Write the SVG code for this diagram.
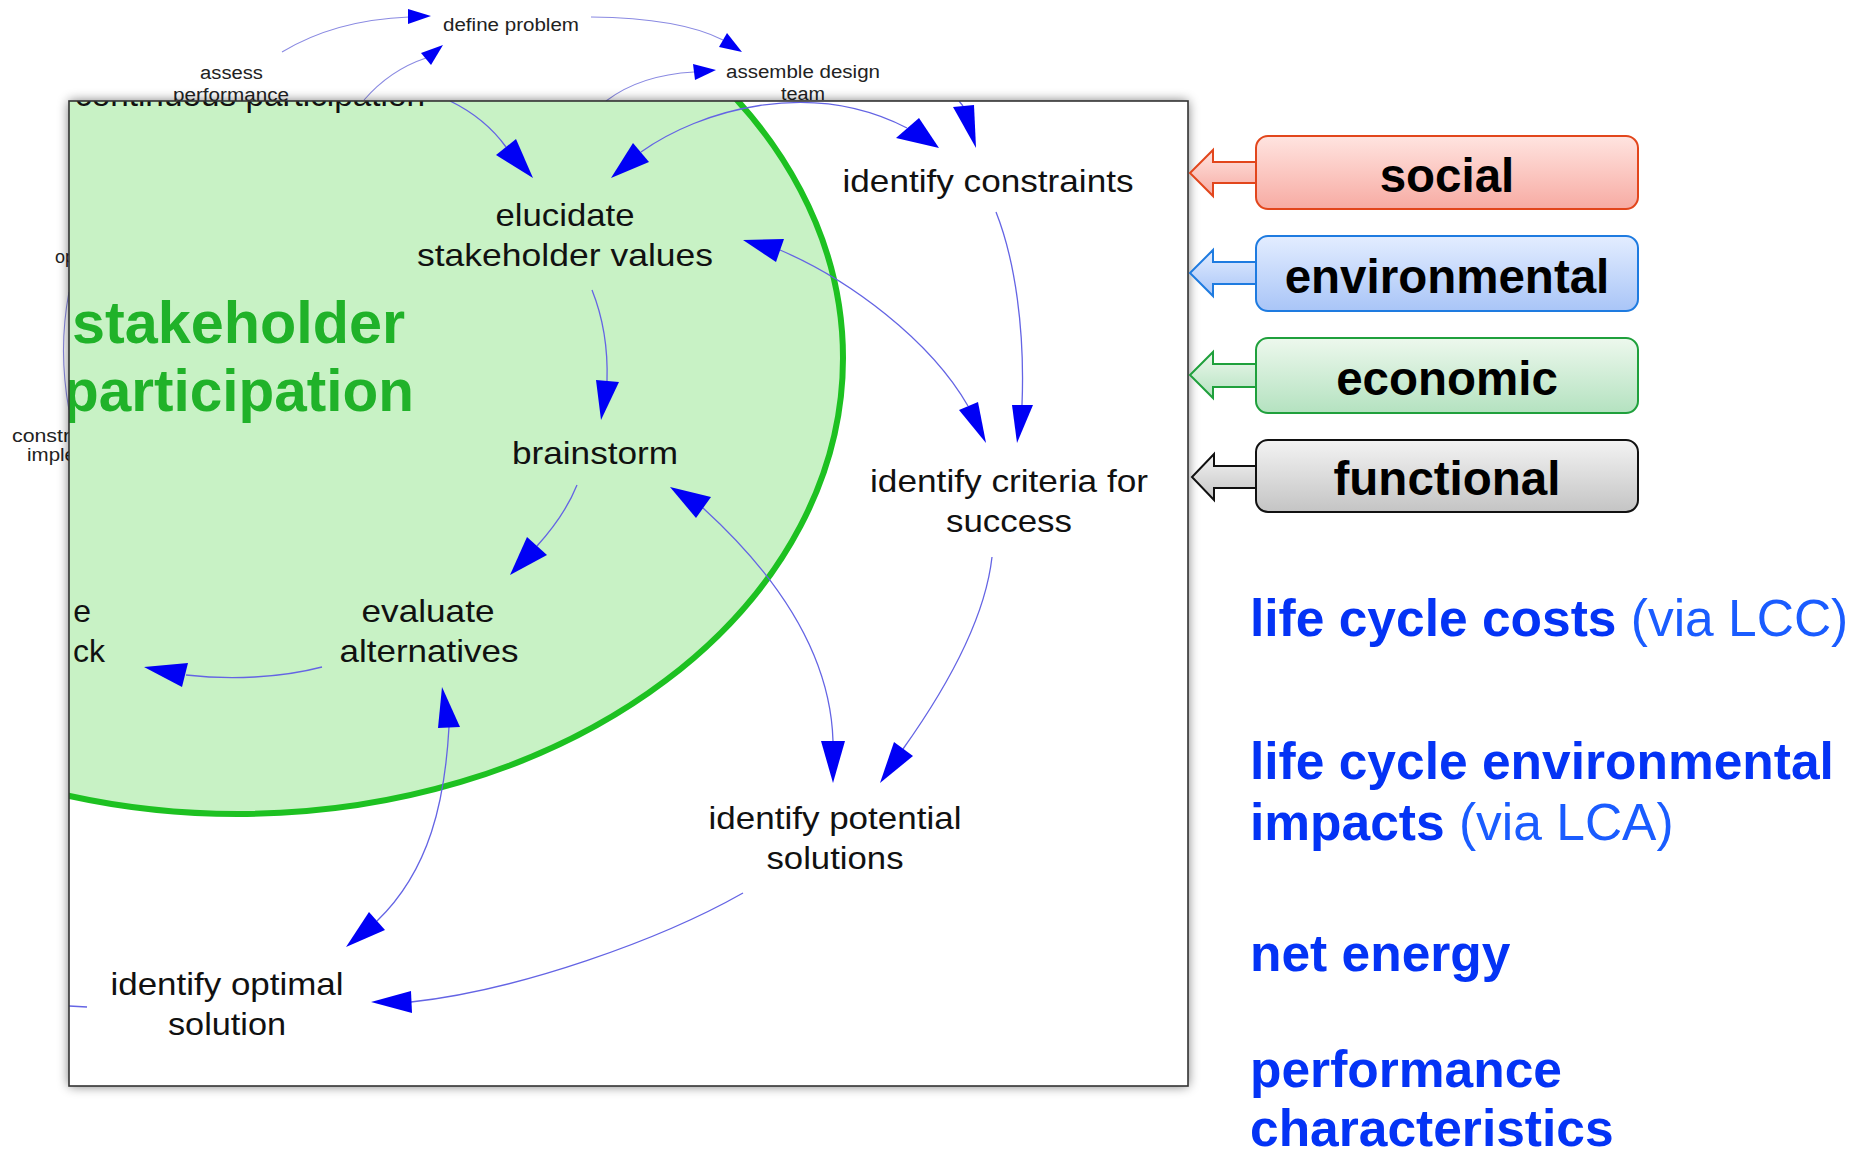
<svg xmlns="http://www.w3.org/2000/svg" width="1869" height="1151" viewBox="0 0 1869 1151">
<defs>
<style>
text{font-family:"Liberation Sans",Arial,Helvetica,sans-serif}
.sm{font-size:18px;fill:#222}
.nd{font-size:32px;fill:#111;text-anchor:middle}
.big{font-size:59px;font-weight:bold;fill:#20b229}
.ln{fill:none;stroke:#6464e4;stroke-width:1.3}
.lo{fill:none;stroke:#8a8ae2;stroke-width:1.1}
.ah{fill:#0000f5}
.cat{font-size:47.5px;font-weight:bold;fill:#000;text-anchor:middle}
.bl{font-size:51.5px;font-weight:bold;fill:#0433f5}
.rg{font-weight:normal;fill:#1a5cff}
</style>
<linearGradient id="gS" x1="0" y1="0" x2="0" y2="1"><stop offset="0" stop-color="#ffe4e0"/><stop offset="1" stop-color="#f7aba3"/></linearGradient>
<linearGradient id="gE" x1="0" y1="0" x2="0" y2="1"><stop offset="0" stop-color="#e3edff"/><stop offset="1" stop-color="#a9c5f7"/></linearGradient>
<linearGradient id="gC" x1="0" y1="0" x2="0" y2="1"><stop offset="0" stop-color="#edf8ed"/><stop offset="1" stop-color="#b4e2c0"/></linearGradient>
<linearGradient id="gF" x1="0" y1="0" x2="0" y2="1"><stop offset="0" stop-color="#f3f3f3"/><stop offset="1" stop-color="#c4c4c4"/></linearGradient>
<filter id="sh" x="-10%" y="-10%" width="120%" height="120%"><feGaussianBlur stdDeviation="6"/></filter>
<clipPath id="fc"><rect x="69" y="101" width="1119" height="985"/></clipPath>
</defs>
<rect width="1869" height="1151" fill="#fff"/>

<!-- background (outer) diagram -->
<g id="outer-nodes">
<text id="n-define" class="sm" x="443" y="31" textLength="136" lengthAdjust="spacingAndGlyphs">define problem</text>
<g id="n-assess"><text class="sm" x="200" y="79" textLength="63" lengthAdjust="spacingAndGlyphs">assess</text><text class="sm" x="173" y="101" textLength="116" lengthAdjust="spacingAndGlyphs">performance</text></g>
<g id="n-assemble"><text class="sm" x="726" y="78" textLength="154" lengthAdjust="spacingAndGlyphs">assemble design</text><text class="sm" x="781" y="100" textLength="44" lengthAdjust="spacingAndGlyphs">team</text></g>
<text id="n-op" class="sm" x="55" y="263">op</text>
<g id="n-constr"><text class="sm" x="12" y="442" textLength="58" lengthAdjust="spacingAndGlyphs">constr</text><text class="sm" x="27" y="461" textLength="49" lengthAdjust="spacingAndGlyphs">imple</text></g>
</g>
<g id="outer-connectors">
<path class="lo" d="M282,52 Q335,20 409,17"/><polygon class="ah" points="431,16 408,9 408,24"/>
<path class="lo" d="M364,100 Q390,70 426,58"/><polygon class="ah" points="443,45 421,53 431,65"/>
<path class="lo" d="M591,17 Q680,18 723,40"/><polygon class="ah" points="742,52 719,47 727,33"/>
<path class="lo" d="M606,101 Q640,75 694,72"/><polygon class="ah" points="716,70 693,64 695,80"/>
<path class="lo" d="M69,292 Q58,350 69,410"/>
</g>

<!-- zoom frame -->
<g id="frame">
<rect x="69" y="101" width="1119" height="985" fill="#000" opacity="0.55" filter="url(#sh)"/>
<rect x="69" y="101" width="1119" height="985" fill="#fff"/>
<g clip-path="url(#fc)">
<ellipse id="participation-zone" cx="238" cy="358" rx="605" ry="456" fill="#c8f2c5" stroke="#1dc121" stroke-width="6"/>
<text x="75" y="106" font-size="32" fill="#111" textLength="350" lengthAdjust="spacingAndGlyphs">continuous participation</text>
<g id="zone-label"><text class="big" x="72" y="343" textLength="333" lengthAdjust="spacingAndGlyphs">stakeholder</text><text class="big" x="63" y="411" textLength="351" lengthAdjust="spacingAndGlyphs">participation</text></g>

<g id="nodes">
<text id="n-constraints" class="nd" x="988" y="192" textLength="291" lengthAdjust="spacingAndGlyphs">identify constraints</text>
<g id="n-elucidate"><text class="nd" x="565" y="226" textLength="139" lengthAdjust="spacingAndGlyphs">elucidate</text><text class="nd" x="565" y="266" textLength="296" lengthAdjust="spacingAndGlyphs">stakeholder values</text></g>
<text id="n-brainstorm" class="nd" x="595" y="464" textLength="166" lengthAdjust="spacingAndGlyphs">brainstorm</text>
<g id="n-evaluate"><text class="nd" x="428" y="622" textLength="133" lengthAdjust="spacingAndGlyphs">evaluate</text><text class="nd" x="429" y="662" textLength="179" lengthAdjust="spacingAndGlyphs">alternatives</text></g>
<g id="n-criteria"><text class="nd" x="1009" y="492" textLength="278" lengthAdjust="spacingAndGlyphs">identify criteria for</text><text class="nd" x="1009" y="532" textLength="126" lengthAdjust="spacingAndGlyphs">success</text></g>
<g id="n-potential"><text class="nd" x="835" y="829" textLength="253" lengthAdjust="spacingAndGlyphs">identify potential</text><text class="nd" x="835" y="869" textLength="137" lengthAdjust="spacingAndGlyphs">solutions</text></g>
<g id="n-optimal"><text class="nd" x="227" y="995" textLength="233" lengthAdjust="spacingAndGlyphs">identify optimal</text><text class="nd" x="227" y="1035" textLength="118" lengthAdjust="spacingAndGlyphs">solution</text></g>
<g id="n-feedback"><text class="nd" x="91" y="622" style="text-anchor:end">e</text><text class="nd" x="105" y="662" style="text-anchor:end">ck</text></g>
</g>

<g id="connectors">
<path class="ln" d="M450,101 Q485,118 506,147"/><polygon class="ah" points="533,178 496,155 516,139"/>
<path class="ln" d="M641,152 C700,110 810,78 907,128"/><polygon class="ah" points="611,178 633,143 649,162"/><polygon class="ah" points="939,148 896,138 919,118"/>
<path class="ln" d="M959,101 L963,106"/><polygon class="ah" points="976,148 953,107 974,105"/>
<path class="ln" d="M996,212 C1015,260 1025,330 1022,405"/><polygon class="ah" points="1017,443 1012,405 1033,405"/>
<path class="ln" d="M780,250 C850,280 930,340 968,406"/><polygon class="ah" points="743,240 784,239 776,262"/><polygon class="ah" points="986,443 959,410 978,402"/>
<path class="ln" d="M592,290 C604,320 608,350 607,381"/><polygon class="ah" points="601,420 596,380 619,382"/>
<path class="ln" d="M577,485 Q565,515 537,546"/><polygon class="ah" points="510,575 527,537 547,555"/>
<path class="ln" d="M322,667 C280,678 230,680 186,675"/><polygon class="ah" points="144,667 188,663 182,687"/>
<path class="ln" d="M449,727 C445,800 430,870 377,921"/><polygon class="ah" points="442,687 438,728 460,727"/><polygon class="ah" points="346,947 369,912 385,930"/>
<path class="ln" d="M743,893 C660,940 520,990 411,1002"/><polygon class="ah" points="371,1002 411,991 412,1013"/>
<path class="ln" d="M703,508 C760,560 830,640 833,741"/><polygon class="ah" points="670,487 711,497 696,518"/><polygon class="ah" points="833,783 821,741 845,741"/>
<path class="ln" d="M992,557 C985,620 945,690 903,749"/><polygon class="ah" points="880,783 894,742 913,756"/>
<path class="ln" d="M69,1006 L87,1007"/>
</g>
</g>
<rect x="69" y="101" width="1119" height="985" fill="none" stroke="#333" stroke-width="1.6"/>
</g>

<!-- criteria categories -->
<g id="cat-social">
<polygon points="1258,162 1213,162 1213,150 1190,173 1213,196 1213,183 1258,183" fill="url(#gS)" stroke="#e2461c" stroke-width="2"/>
<rect x="1256" y="136" width="382" height="73" rx="12" fill="url(#gS)" stroke="#e2461c" stroke-width="2"/>
<text class="cat" x="1447" y="192">social</text>
</g>
<g id="cat-environmental">
<polygon points="1258,262 1213,262 1213,250 1190,273 1213,296 1213,284 1258,284" fill="url(#gE)" stroke="#1e7be0" stroke-width="2"/>
<rect x="1256" y="236" width="382" height="75" rx="12" fill="url(#gE)" stroke="#1e7be0" stroke-width="2"/>
<text class="cat" x="1447" y="293">environmental</text>
</g>
<g id="cat-economic">
<polygon points="1258,364 1213,364 1213,352 1190,375 1213,398 1213,387 1258,387" fill="url(#gC)" stroke="#1fa03c" stroke-width="2"/>
<rect x="1256" y="338" width="382" height="75" rx="12" fill="url(#gC)" stroke="#1fa03c" stroke-width="2"/>
<text class="cat" x="1447" y="395">economic</text>
</g>
<g id="cat-functional">
<polygon points="1258,466 1214,466 1214,454 1192,477 1214,500 1214,488 1258,488" fill="url(#gF)" stroke="#111" stroke-width="2"/>
<rect x="1256" y="440" width="382" height="72" rx="12" fill="url(#gF)" stroke="#111" stroke-width="2"/>
<text class="cat" x="1447" y="495">functional</text>
</g>

<g id="metrics">
<text class="bl" x="1250" y="636">life cycle costs <tspan class="rg">(via LCC)</tspan></text>
<text class="bl" x="1250" y="779">life cycle environmental</text>
<text class="bl" x="1250" y="840">impacts <tspan class="rg">(via LCA)</tspan></text>
<text class="bl" x="1250" y="971">net energy</text>
<text class="bl" x="1250" y="1087">performance</text>
<text class="bl" x="1250" y="1146">characteristics</text>
</g>
</svg>
